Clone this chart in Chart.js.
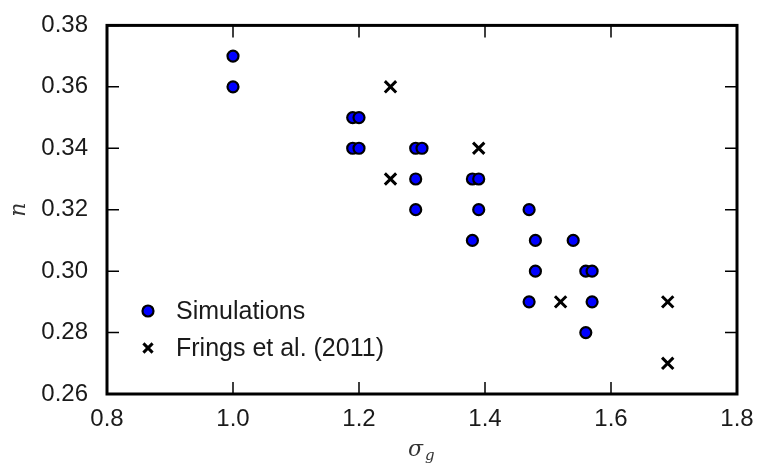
<!DOCTYPE html>
<html>
<head>
<meta charset="utf-8">
<script src="https://cdn.jsdelivr.net/npm/chart.js@4/dist/chart.umd.min.js"></script>
<style>
  html, body { margin: 0; padding: 0; background: #fff; }
  #wrap { width: 758px; height: 468px; }
</style>
</head>
<body>
<div id="wrap"><canvas id="myChart" width="758" height="468"></canvas></div>
<script>
// data
const simSigma = [1.00, 1.00, 1.19, 1.20, 1.19, 1.20, 1.29, 1.30, 1.29, 1.29, 1.38, 1.39, 1.39, 1.47, 1.38, 1.48, 1.54, 1.48, 1.56, 1.57, 1.47, 1.57, 1.56];
const simN     = [0.37, 0.36, 0.35, 0.35, 0.34, 0.34, 0.34, 0.34, 0.33, 0.32, 0.33, 0.33, 0.32, 0.32, 0.31, 0.31, 0.31, 0.30, 0.30, 0.30, 0.29, 0.29, 0.28];
const fringsSigma = [1.25, 1.25, 1.39, 1.52, 1.69, 1.69];
const fringsN     = [0.36, 0.33, 0.34, 0.29, 0.29, 0.27];
const legendLabels = ["Simulations", "Frings et al. (2011)"];
const xTickMin = 0.8, xTickMax = 1.8, xStep = 0.2;
const yTickMin = 0.26, yTickMax = 0.38, yStep = 0.02;

function pairs(xs, ys) {
  return xs.map((x, i) => ({ x: x, y: ys[i] }));
}

const tickFont = { family: "'Liberation Sans', Arial, sans-serif", size: 24 };

// frame, inward ticks, axis titles and legend
const framePlugin = {
  id: "frame",
  afterDraw(chart) {
    const ctx = chart.ctx;
    const a = chart.chartArea;
    const xs = chart.scales.x, ys = chart.scales.y;
    ctx.save();
    ctx.strokeStyle = "#000";
    ctx.lineWidth = 1.5;
    const tl = 12;
    ctx.beginPath();
    xs.ticks.forEach((t) => {
      const px = xs.getPixelForValue(t.value);
      ctx.moveTo(px, a.bottom); ctx.lineTo(px, a.bottom - tl);
      ctx.moveTo(px, a.top); ctx.lineTo(px, a.top + tl);
    });
    ys.ticks.forEach((t) => {
      const py = ys.getPixelForValue(t.value);
      ctx.moveTo(a.left, py); ctx.lineTo(a.left + tl, py);
      ctx.moveTo(a.right, py); ctx.lineTo(a.right - tl, py);
    });
    ctx.stroke();
    ctx.lineWidth = 3;
    ctx.strokeRect(a.left, a.top, a.right - a.left, a.bottom - a.top);

    // axis titles
    ctx.fillStyle = "#333";
    ctx.font = "italic 22px 'DejaVu Serif', serif";
    ctx.textAlign = "left";
    ctx.textBaseline = "alphabetic";
    const cx = (a.left + a.right) / 2;
    ctx.fillText("σ", cx - 14, 456);
    ctx.font = "italic 15px 'DejaVu Serif', serif";
    ctx.fillText("g", cx + 3, 460);
    ctx.save();
    ctx.translate(25, (a.top + a.bottom) / 2);
    ctx.rotate(-Math.PI / 2);
    ctx.textAlign = "center";
    ctx.font = "italic 22px 'DejaVu Serif', serif";
    ctx.fillText("n", 0, 0);
    ctx.restore();

    // legend
    const lx = a.left + 41, ly0 = a.bottom - 83, gap = 37;
    chart.data.datasets.forEach((ds, i) => {
      const y = ly0 + i * gap;
      ctx.fillStyle = ds.pointBackgroundColor;
      ctx.strokeStyle = ds.pointBorderColor;
      ctx.lineWidth = ds.pointBorderWidth;
      Chart.helpers.drawPoint(ctx, {
        pointStyle: ds.pointStyle,
        radius: ds.pointStyle === "crossRot" ? 6.5 : ds.pointRadius,
        borderWidth: ds.pointBorderWidth,
        rotation: 0
      }, lx, y);
      ctx.fillStyle = "#1a1a1a";
      ctx.font = "25px 'Liberation Sans', Arial, sans-serif";
      ctx.textAlign = "left";
      ctx.textBaseline = "middle";
      ctx.fillText(legendLabels[i], lx + 28, y + 1);
    });
    ctx.restore();
  }
};

window.addEventListener("load", function () {
  const data = {
    datasets: [
      {
        label: legendLabels[0],
        data: pairs(simSigma, simN),
        pointStyle: "circle",
        pointRadius: 5.5,
        pointBorderWidth: 2.2,
        pointBackgroundColor: "#0000ff",
        pointBorderColor: "#000",
        pointHoverRadius: 5.5
      },
      {
        label: legendLabels[1],
        data: pairs(fringsSigma, fringsN),
        pointStyle: "crossRot",
        pointRadius: 8,
        pointBorderWidth: 3,
        pointBackgroundColor: "#000",
        pointBorderColor: "#000",
        pointHoverRadius: 8
      }
    ]
  };

  const config = {
    type: "scatter",
    data,
    options: {
      responsive: false,
      animation: false,
      events: [],
      layout: { padding: { left: 0, top: 20, right: 21, bottom: 0 } },
      plugins: { legend: { display: false }, tooltip: { enabled: false } },
      scales: {
        x: {
          type: "linear",
          min: xTickMin,
          max: xTickMax,
          grid: { display: false },
          border: { display: false },
          ticks: {
            stepSize: xStep,
            padding: 3,
            color: "#1a1a1a",
            font: tickFont,
            callback: (v) => v.toFixed(1)
          },
          afterFit: (s) => { s.height = 74; }
        },
        y: {
          type: "linear",
          min: yTickMin,
          max: yTickMax,
          grid: { display: false },
          border: { display: false },
          ticks: {
            stepSize: yStep,
            padding: 11,
            color: "#1a1a1a",
            font: tickFont,
            callback: (v) => v.toFixed(2)
          },
          afterFit: (s) => { s.width = 107; }
        }
      }
    },
    plugins: [framePlugin]
  };

  const myChart = new Chart(document.getElementById("myChart"), config);
});
</script>
</body>
</html>
